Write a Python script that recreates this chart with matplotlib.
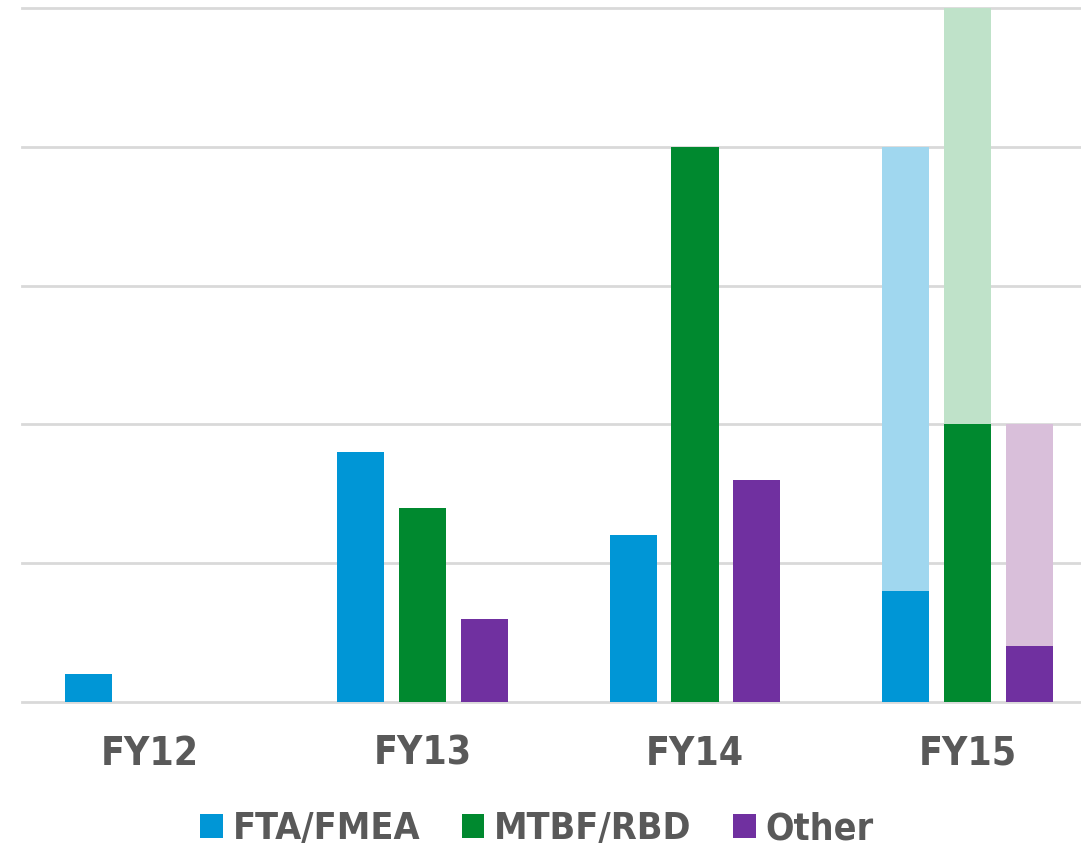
import matplotlib
matplotlib.use("Agg")
import matplotlib.pyplot as plt
from matplotlib.patches import Patch
import numpy as np

years = ["FY12", "FY13", "FY14", "FY15"]
series = ["FTA/FMEA", "MTBF/RBD", "Other"]

# Actual counts per fiscal year
fta_actual = [1, 9, 6, 4]
mtbf_actual = [0, 7, 20, 10]
other_actual = [0, 3, 8, 2]

# Projected totals (FY15 only)
fta_projected = [0, 0, 0, 20]
mtbf_projected = [0, 0, 0, 25]
other_projected = [0, 0, 0, 10]

solid_colors = ["#0096D6", "#00892F", "#7030A0"]
light_colors = ["#A0D7EF", "#BFE2C9", "#D9BFDA"]
text_color = "#595959"

plt.rcParams["font.family"] = ["DejaVu Sans"]
plt.rcParams["font.stretch"] = "condensed"

fig = plt.figure(figsize=(10.81, 8.46), dpi=100)
W, H = 1081, 846
ax = fig.add_axes([22 / W, (H - 702) / H, 1 - 22 / W, (702 - 8) / H])

x = np.arange(len(years))
width = 0.1725
offsets = [-0.2257, 0.0, 0.2257]

actual = [fta_actual, mtbf_actual, other_actual]
projected = [fta_projected, mtbf_projected, other_projected]

for i in range(3):
    ax.bar(x + offsets[i], projected[i], width, color=light_colors[i], zorder=2)
    ax.bar(x + offsets[i], actual[i], width, color=solid_colors[i], zorder=3)

ax.set_xlim((22 - 150) / 272.5, (1081 - 150) / 272.5)
ax.set_ylim(0, 25)
ax.set_yticks(np.arange(0, 26, 5))
ax.yaxis.grid(True, color="#D9D9D9", linewidth=2, zorder=0)
ax.set_axisbelow(True)
for s in ax.spines.values():
    s.set_visible(False)
ax.tick_params(axis="y", left=False, labelleft=False)
ax.tick_params(axis="x", bottom=False, pad=20)
ax.set_xticks(x)
ax.set_xticklabels(years, fontsize=28, fontweight="bold", color=text_color,
                   fontstretch="condensed")
for gl in ax.get_ygridlines():
    gl.set_clip_on(False)

handles = [Patch(facecolor=c, edgecolor="none") for c in solid_colors]
leg = fig.legend(handles, series, loc="center", bbox_to_anchor=(537 / W, 1 - 829 / H),
                 ncol=3, frameon=False, fontsize=27, handlelength=0.6, handleheight=0.6,
                 handletextpad=0.27, columnspacing=1.1, borderpad=0.1)
for t in leg.get_texts():
    t.set_color(text_color)
    t.set_fontweight("bold")
    t.set_fontstretch("condensed")

fig.savefig("out.png", dpi=100)
